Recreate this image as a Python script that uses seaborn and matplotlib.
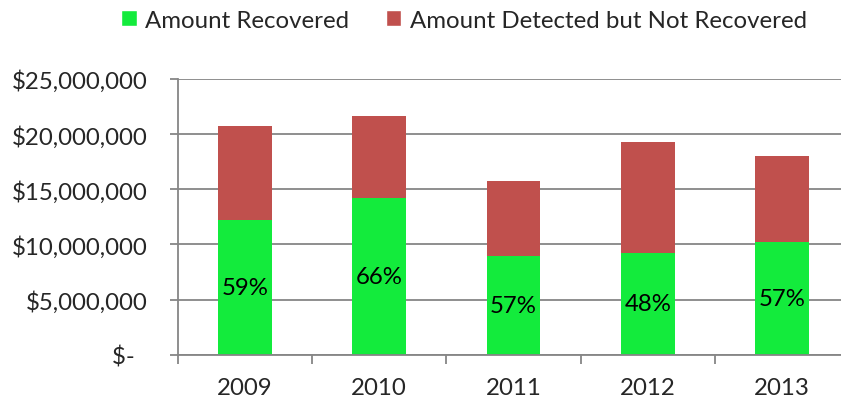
#!/usr/bin/env python3
import matplotlib

matplotlib.use("Agg")
import matplotlib.pyplot as plt
import numpy as np
import pandas as pd
import seaborn as sns
from matplotlib.patches import Patch
from matplotlib.ticker import FuncFormatter

years = ["2009", "2010", "2011", "2012", "2013"]
recovered = [12_250_000, 14_180_000, 8_970_000, 9_250_000, 10_250_000]
not_recovered = [8_450_000, 7_420_000, 6_820_000, 10_000_000, 7_810_000]

GREEN = "#13EB3C"
RED = "#C0504D"
GRID = "#868686"


def money(v, _pos):
    if v == 0:
        return "$-  "
    return f"${v:,.0f}"


def main() -> None:
    df = pd.DataFrame(
        {"year": years, "recovered": recovered, "not_recovered": not_recovered}
    )
    df["total"] = df["recovered"] + df["not_recovered"]
    df["pct"] = df["recovered"] / df["total"]

    sns.set_theme(style="white")
    plt.rcParams["font.family"] = ["Lato", "DejaVu Sans"]
    fs = 17.3

    fig = plt.figure(figsize=(8.41, 4.02), dpi=100)
    ax = fig.add_axes([177.5 / 841, 46.3 / 402, 671.8 / 841, 275.7 / 402])

    sns.barplot(data=df, x="year", y="total", color=RED, width=0.4,
                saturation=1, ax=ax)
    sns.barplot(data=df, x="year", y="recovered", color=GREEN, width=0.4,
                saturation=1, ax=ax)
    for p in ax.patches:
        p.set_edgecolor("none")

    for i, row in df.iterrows():
        ax.text(i, row["recovered"] / 2, f"{row['pct']:.0%}", ha="center",
                va="center", fontsize=fs, color="black")

    ax.set_xlim(-0.5, 4.5)
    ax.set_ylim(0, 25_000_000)
    ax.set_yticks(np.arange(0, 25_000_001, 5_000_000))
    ax.yaxis.set_major_formatter(FuncFormatter(money))
    ax.yaxis.grid(True, color=GRID, linewidth=1.3)
    ax.set_axisbelow(True)

    ax.set_xticks(np.arange(-0.5, 5, 1.0), minor=True)
    ax.tick_params(axis="x", which="major", length=0, pad=16, labelsize=fs)
    ax.tick_params(axis="x", which="minor", length=6.2, width=1.3,
                   color=GRID, direction="out", bottom=True)
    ax.tick_params(axis="y", length=5.6, width=1.3, color=GRID, left=True,
                   pad=16, labelsize=fs)

    for side in ["top", "right"]:
        ax.spines[side].set_visible(False)
    for side in ["left", "bottom"]:
        ax.spines[side].set_color(GRID)
        ax.spines[side].set_linewidth(1.3)

    ax.set_xlabel("")
    ax.set_ylabel("")

    handles = [
        Patch(facecolor=GREEN, label="Amount Recovered"),
        Patch(facecolor=RED, label="Amount Detected but Not Recovered"),
    ]
    fig.legend(handles=handles, loc="center", bbox_to_anchor=(464 / 841, 1 - 21 / 402),
               ncol=2, frameon=False, fontsize=fs, handlelength=0.65,
               handleheight=0.65, handletextpad=0.35, columnspacing=1.5)

    fig.savefig("out.png", dpi=100)
    plt.close(fig)


if __name__ == "__main__":
    main()
